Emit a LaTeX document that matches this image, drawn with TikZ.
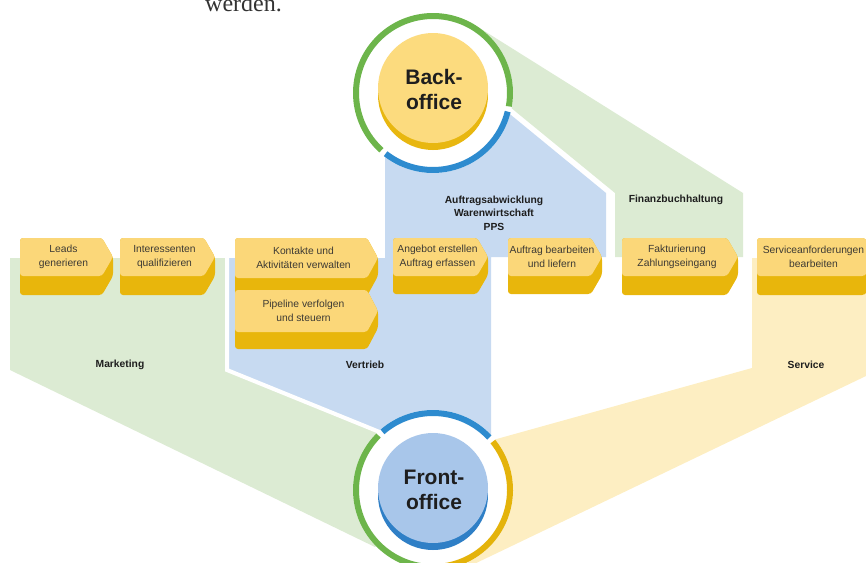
\documentclass[tikz,border=0pt]{standalone}
\usepackage{fontspec}
\setmainfont{Liberation Sans}
\newfontfamily\wserif{Liberation Serif}
\definecolor{rgreen}{HTML}{DCEBD3}
\definecolor{rblue}{HTML}{C7DAF1}
\definecolor{ryellow}{HTML}{FDEEC2}
\definecolor{ringgreen}{HTML}{6DB54B}
\definecolor{ringblue}{HTML}{2D8BCF}
\definecolor{ringyellow}{HTML}{E4B30B}
\definecolor{boxtop}{HTML}{FBD779}
\definecolor{boxside}{HTML}{E8B60C}
\definecolor{discY}{HTML}{FCDB7E}
\definecolor{discYd}{HTML}{E8B710}
\definecolor{discB}{HTML}{A8C6EA}
\definecolor{discBd}{HTML}{2F7FC6}
\definecolor{txt}{HTML}{3D3A34}
\definecolor{lbltxt}{HTML}{1E1E1E}
\newcommand\procbox[7]{%
  \pgfmathsetmacro\pbA{#3-11}%
  \pgfmathsetmacro\pbM{(#4+#5)/2}%
  \pgfmathsetmacro\pbE{#6-#5}%
  \pgfmathsetmacro\pbX{(#2+#3)/2-3}%
  \fill[boxside,rounded corners=3pt] (#2,#4) -- (\pbA,#4) -- (#3,\pbM) -- (#3,{\pbM+\pbE}) -- (\pbA,#6) -- (#2,#6) -- cycle;
  \fill[boxtop,rounded corners=3pt] (#2,#4) -- (\pbA,#4) -- (#3,\pbM) -- (\pbA,#5) -- (#2,#5) -- cycle;
  \node[boxtext] (#1) at (\pbX,\pbM) {#7};
}
\begin{document}
\begin{tikzpicture}[x=1pt,y=-1pt,
  boxtext/.style={font=\fontsize{10.3}{13.5}\selectfont, text=txt, align=center, inner sep=0pt},
  lbl/.style={font=\bfseries\fontsize{10.3}{13.5}\selectfont, text=lbltxt, align=center, inner sep=0pt},
  bigtxt/.style={font=\bfseries\fontsize{21}{25}\selectfont, text=lbltxt, align=center, inner sep=0pt},
  ring/.style={line width=6pt}]
\useasboundingbox (0,0) rectangle (866,562);
\clip (0,0) rectangle (866,562);
\coordinate (bo) at (433,93);
\coordinate (fo) at (433,490);
% text fragment at top
\node[anchor=base west, inner sep=0pt, font=\wserif\fontsize{24}{24}\selectfont, text=black!80] (werden) at (205,12) {werden.};
% regions
\fill[rgreen] (bo) -- (470,22) -- (743,193) -- (743,257) -- (615,257) -- (615,193) -- (510,107) -- cycle;
\fill[rgreen] (10,258) -- (225,258) -- (225,370) -- (380,432) -- (fo) -- (375,547) -- (10,370) -- cycle;
\fill[ryellow] (752,258) -- (866,258) -- (866,376) -- (470,566) -- (fo) -- (493,440) -- (752,368) -- cycle;
\fill[rblue] (bo) -- (500,106) -- (606,193) -- (606,257) -- (491,257) -- (491,470) -- (fo) -- (380,432) -- (227,370) -- (227,258) -- (385,258) -- (385,120) -- cycle;
\draw[white, line width=4pt] (227,250) -- (227,370) -- (382,433);
% back-office
\fill[white] (bo) circle (80);
\draw[ringgreen, ring] (bo) ++(-228:77) arc[start angle=-228, end angle=10, radius=77];
\draw[ringblue, ring] (bo) ++(14:77) arc[start angle=14, end angle=128, radius=77];
\fill[discYd] (433,95) circle (55);
\fill[discY] (433,88) circle (55);
\node[bigtxt] (back) at (434,89) {Back-\\office};
% front-office
\fill[white] (fo) circle (80);
\draw[ringblue, ring] (fo) ++(-131:77) arc[start angle=-131, end angle=-43, radius=77];
\draw[ringgreen, ring] (fo) ++(90:77) arc[start angle=90, end angle=225, radius=77];
\draw[ringyellow, ring] (fo) ++(-39:77) arc[start angle=-39, end angle=88, radius=77];
\fill[discBd] (433,495) circle (55);
\fill[discB] (433,488) circle (55);
\node[bigtxt] (front) at (434,490) {Front-\\office};
% process boxes
\procbox{leads}{20}{113}{238}{276}{295}{Leads\\generieren}
\procbox{interessenten}{120}{215}{238}{276}{295}{Interessenten\\qualifizieren}
\procbox{kontakte}{235}{378}{238}{278}{296}{Kontakte und\\Aktivit\"aten verwalten}
\procbox{pipeline}{235}{378}{290}{332}{349}{Pipeline verfolgen\\und steuern}
\procbox{angebot}{393}{488}{238}{276}{294}{Angebot erstellen\\Auftrag erfassen}
\procbox{auftrag}{508}{602}{238}{276}{294}{Auftrag bearbeiten\\und liefern}
\procbox{faktur}{622}{738}{238}{276}{295}{Fakturierung\\Zahlungseingang}
\procbox{service}{757}{876}{238}{276}{295}{Serviceanforderungen\\bearbeiten}
% labels
\node[lbl] (abw) at (494,213) {Auftragsabwicklung\\Warenwirtschaft\\PPS};
\node[lbl] (fibu) at (676,200) {Finanzbuchhaltung};
\node[lbl] (marketing) at (120,365) {Marketing};
\node[lbl] (vertrieb) at (365,365) {Vertrieb};
\node[lbl] (servicelbl) at (806,365) {Service};
\end{tikzpicture}
\end{document}
